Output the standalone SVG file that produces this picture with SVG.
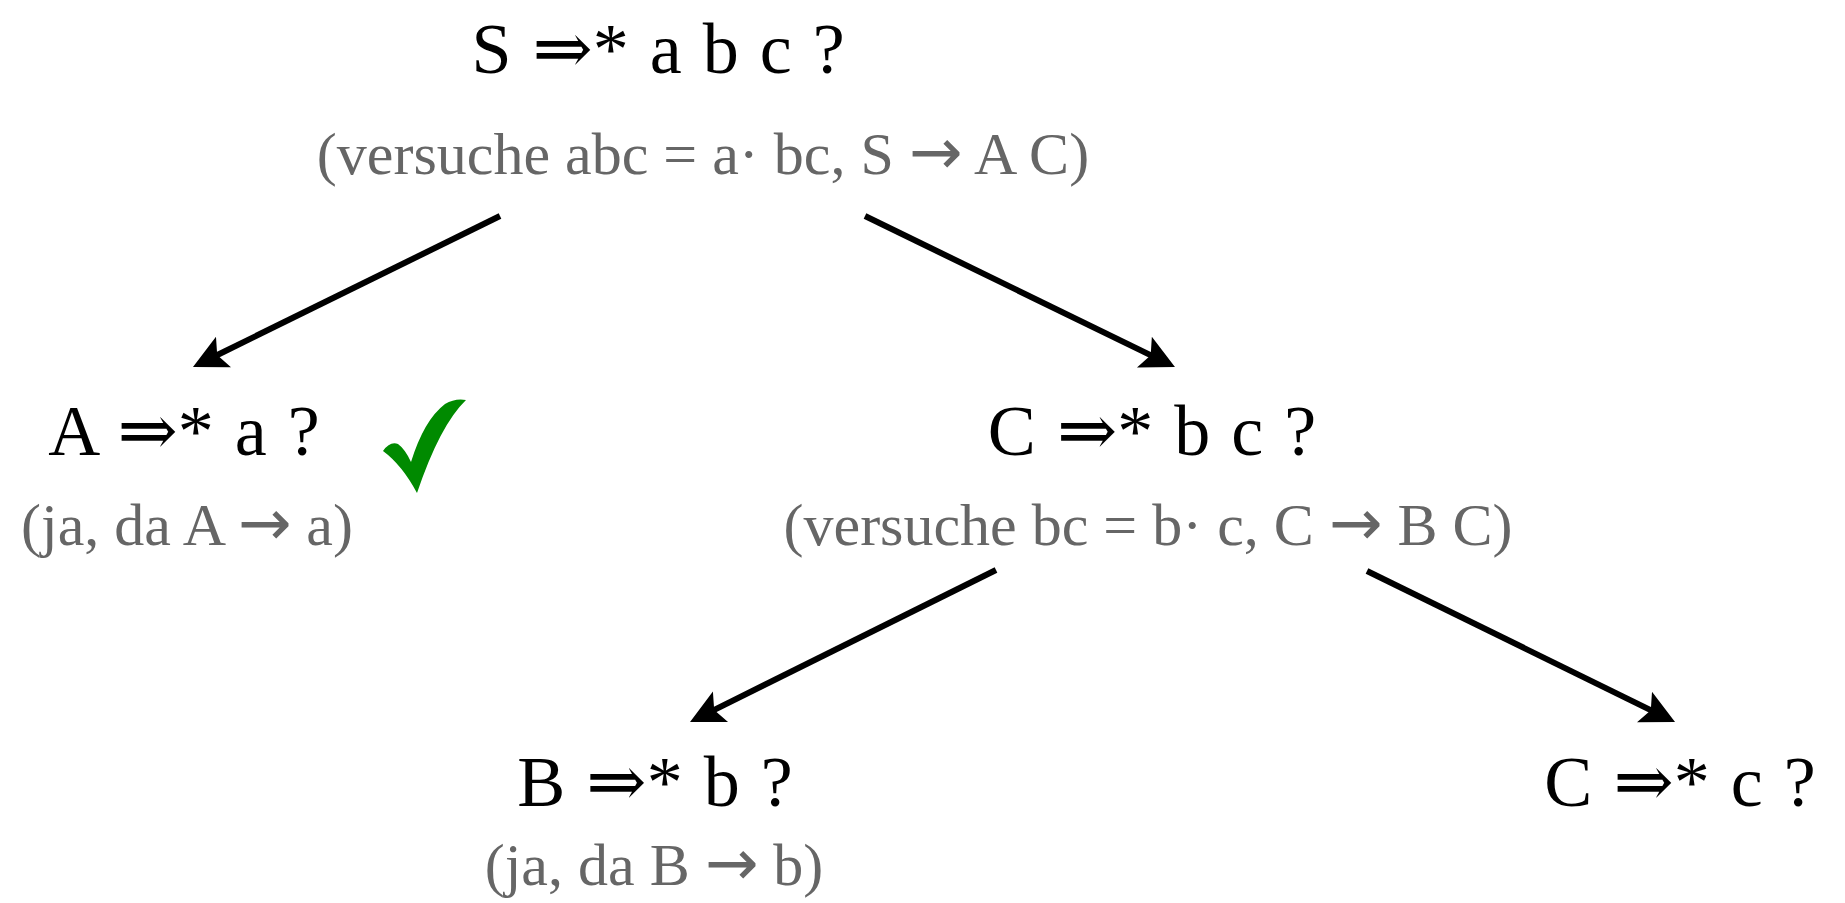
<svg xmlns="http://www.w3.org/2000/svg" width="1845" height="903" viewBox="0 0 1845 903">
<defs>
<marker id="ah" markerUnits="userSpaceOnUse" markerWidth="40" markerHeight="40" viewBox="0 -20 40 40" refX="8" refY="0" orient="auto">
<path d="M0,-17 L34,0 L0,17 L7,0 Z" fill="#000"/>
</marker>
<style>
.q{font-family:"Liberation Serif","DejaVu Serif",serif;font-size:72px;fill:#000;text-anchor:middle;word-spacing:3px}
.n{font-family:"Liberation Serif","DejaVu Serif",serif;font-size:60px;fill:#666;text-anchor:middle}
.ar{font-family:"DejaVu Sans",sans-serif;font-size:64px}
.e{stroke:#000;stroke-width:6;fill:none;marker-end:url(#ah)}
</style>
</defs>
<rect width="1845" height="903" fill="#fff"/>
<g id="connectors">
<line class="e" x1="500" y1="216" x2="216.3" y2="355.5"/>
<line class="e" x1="865" y1="216" x2="1151.6" y2="355.6"/>
<line class="e" x1="996" y1="570" x2="713.3" y2="710.4"/>
<line class="e" x1="1367" y1="571" x2="1651.7" y2="710.6"/>
</g>
<g id="node-S">
<text class="q" x="658" y="73">S ⇒* a b c ?</text>
<text class="n" x="703" y="174">(versuche abc = a· bc, S <tspan class="ar">→</tspan> A C)</text>
</g>
<g id="node-A">
<text class="q" x="184" y="455">A ⇒* a ?</text>
<text class="n" x="187" y="545">(ja, da A <tspan class="ar">→</tspan> a)</text>
<path d="M383,451 Q390,441 398,444 Q405,449 411,462 Q424,420 445,404 Q455,398 466,400 Q440,425 417,493 Q402,465 383,451 Z" fill="#008a00"/>
</g>
<g id="node-C1">
<text class="q" x="1152" y="455">C ⇒* b c ?</text>
<text class="n" x="1148" y="545">(versuche bc = b· c, C <tspan class="ar">→</tspan> B C)</text>
</g>
<g id="node-B">
<text class="q" x="655" y="806">B ⇒* b ?</text>
<text class="n" x="654" y="885">(ja, da B <tspan class="ar">→</tspan> b)</text>
</g>
<g id="node-C2">
<text class="q" x="1680" y="806">C ⇒* c ?</text>
</g>
</svg>
